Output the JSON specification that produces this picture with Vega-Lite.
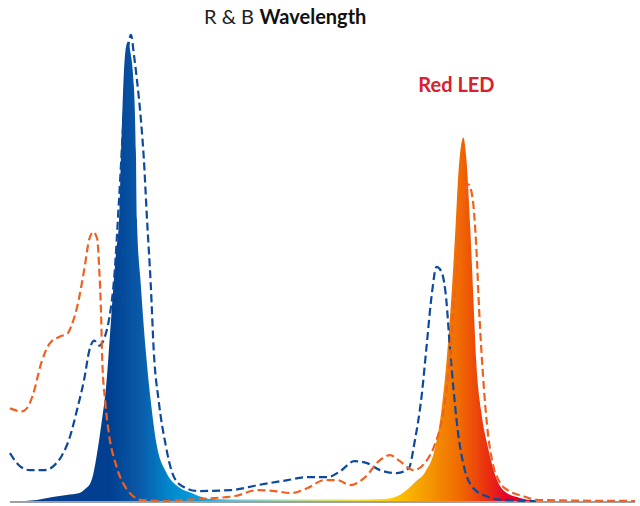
{
  "$schema": "https://vega.github.io/schema/vega-lite/v6.json",
  "width": 640,
  "height": 506,
  "padding": 0,
  "autosize": {"type": "fit", "contains": "padding"},
  "config": {"view": {"stroke": null}},
  "datasets": {
    "fill": [
      {"nm": 385.625, "v": 1}, {"nm": 393.125, "v": 2}, {"nm": 403.125, "v": 5}, {"nm": 411.875, "v": 7},
      {"nm": 420, "v": 9}, {"nm": 424.375, "v": 14}, {"nm": 426.25, "v": 17}, {"nm": 428.125, "v": 24},
      {"nm": 430.625, "v": 44}, {"nm": 433.75, "v": 77}, {"nm": 436.875, "v": 117}, {"nm": 440, "v": 184},
      {"nm": 443.125, "v": 251}, {"nm": 445, "v": 284}, {"nm": 446.25, "v": 351}, {"nm": 448.125, "v": 434},
      {"nm": 449.375, "v": 457}, {"nm": 450.625, "v": 462}, {"nm": 451.875, "v": 454}, {"nm": 454.375, "v": 417},
      {"nm": 455.625, "v": 351}, {"nm": 456.25, "v": 284}, {"nm": 458.75, "v": 217}, {"nm": 461.875, "v": 151},
      {"nm": 465, "v": 101}, {"nm": 468.75, "v": 57}, {"nm": 474.375, "v": 31}, {"nm": 482.5, "v": 15},
      {"nm": 490.625, "v": 9}, {"nm": 495, "v": 6}, {"nm": 503.125, "v": 3}, {"nm": 513.75, "v": 2.5},
      {"nm": 557.5, "v": 2.5}, {"nm": 601.25, "v": 2.5}, {"nm": 611.875, "v": 3}, {"nm": 620.5, "v": 6},
      {"nm": 627, "v": 13}, {"nm": 631.5, "v": 20}, {"nm": 637.75, "v": 30}, {"nm": 644, "v": 54},
      {"nm": 648, "v": 91}, {"nm": 651.25, "v": 141}, {"nm": 654.375, "v": 207}, {"nm": 656.875, "v": 274},
      {"nm": 658.75, "v": 330}, {"nm": 660.625, "v": 360}, {"nm": 661.875, "v": 366}, {"nm": 663.75, "v": 345},
      {"nm": 666.25, "v": 274}, {"nm": 668.125, "v": 207}, {"nm": 670, "v": 141}, {"nm": 673.125, "v": 91},
      {"nm": 677.5, "v": 54}, {"nm": 681.875, "v": 27}, {"nm": 687.5, "v": 11}, {"nm": 697.5, "v": 4},
      {"nm": 708, "v": 1}
    ],
    "blue": [
      {"nm": 376.25, "v": 49}, {"nm": 382.5, "v": 36}, {"nm": 388.75, "v": 32}, {"nm": 398.125, "v": 32},
      {"nm": 404.375, "v": 37}, {"nm": 408.75, "v": 46}, {"nm": 413.75, "v": 64}, {"nm": 418.75, "v": 94},
      {"nm": 423.125, "v": 124}, {"nm": 426.25, "v": 152}, {"nm": 429.375, "v": 162}, {"nm": 432.5, "v": 157},
      {"nm": 435.625, "v": 164}, {"nm": 438.75, "v": 184}, {"nm": 441.875, "v": 224}, {"nm": 445, "v": 304},
      {"nm": 448.125, "v": 394}, {"nm": 450.625, "v": 454}, {"nm": 452.5, "v": 469}, {"nm": 454.375, "v": 449},
      {"nm": 456.25, "v": 424}, {"nm": 458.75, "v": 384}, {"nm": 460.625, "v": 344}, {"nm": 462.5, "v": 287},
      {"nm": 465, "v": 217}, {"nm": 466.875, "v": 151}, {"nm": 470, "v": 101}, {"nm": 474.375, "v": 57},
      {"nm": 478.125, "v": 31}, {"nm": 483.75, "v": 17}, {"nm": 495, "v": 11}, {"nm": 515.625, "v": 12},
      {"nm": 532.5, "v": 17}, {"nm": 551.25, "v": 22}, {"nm": 563.75, "v": 25}, {"nm": 576.25, "v": 25},
      {"nm": 584.375, "v": 31}, {"nm": 593.125, "v": 41}, {"nm": 601.25, "v": 39}, {"nm": 609.375, "v": 32},
      {"nm": 620, "v": 29}, {"nm": 627.5, "v": 34}, {"nm": 631.25, "v": 61}, {"nm": 635.625, "v": 107},
      {"nm": 638.75, "v": 157}, {"nm": 641.875, "v": 207}, {"nm": 645, "v": 236}, {"nm": 648.125, "v": 231},
      {"nm": 651.25, "v": 201}, {"nm": 653.125, "v": 161}, {"nm": 655.625, "v": 114}, {"nm": 658.75, "v": 67},
      {"nm": 662.5, "v": 34}, {"nm": 668.125, "v": 14}, {"nm": 676.25, "v": 6}, {"nm": 686.875, "v": 2},
      {"nm": 707.5, "v": 1}
    ],
    "orange": [
      {"nm": 376.25, "v": 94}, {"nm": 383.75, "v": 91}, {"nm": 386.875, "v": 94}, {"nm": 390.625, "v": 107},
      {"nm": 396.25, "v": 141}, {"nm": 401.25, "v": 159}, {"nm": 407.5, "v": 166}, {"nm": 412.5, "v": 169},
      {"nm": 415, "v": 177}, {"nm": 418.75, "v": 197}, {"nm": 423.125, "v": 234}, {"nm": 426.25, "v": 264},
      {"nm": 428.75, "v": 271}, {"nm": 431.25, "v": 264}, {"nm": 432.5, "v": 234}, {"nm": 433.75, "v": 184},
      {"nm": 434.375, "v": 144}, {"nm": 436.25, "v": 101}, {"nm": 438.75, "v": 67}, {"nm": 443.125, "v": 37},
      {"nm": 449.375, "v": 14}, {"nm": 459.375, "v": 2}, {"nm": 474.375, "v": 1}, {"nm": 484.375, "v": 2},
      {"nm": 505.625, "v": 4}, {"nm": 518.125, "v": 6}, {"nm": 532.5, "v": 12}, {"nm": 543.125, "v": 11},
      {"nm": 553.125, "v": 9}, {"nm": 563.75, "v": 14}, {"nm": 574.375, "v": 22}, {"nm": 582.5, "v": 22},
      {"nm": 590.625, "v": 17}, {"nm": 599.375, "v": 24}, {"nm": 609.375, "v": 42}, {"nm": 615.625, "v": 47},
      {"nm": 621.875, "v": 41}, {"nm": 630.625, "v": 32}, {"nm": 637.5, "v": 39}, {"nm": 643.75, "v": 57},
      {"nm": 649.375, "v": 91}, {"nm": 653.125, "v": 141}, {"nm": 656.25, "v": 207}, {"nm": 659.375, "v": 264},
      {"nm": 662.5, "v": 307}, {"nm": 665, "v": 319}, {"nm": 667.5, "v": 307}, {"nm": 670, "v": 257},
      {"nm": 671.875, "v": 191}, {"nm": 674.375, "v": 124}, {"nm": 677.5, "v": 67}, {"nm": 680.625, "v": 37},
      {"nm": 684.375, "v": 21}, {"nm": 690.625, "v": 11}, {"nm": 699.375, "v": 6}, {"nm": 709.375, "v": 2},
      {"nm": 770, "v": 1}
    ]
  },
  "encoding": {
    "x": {"field": "nm", "type": "quantitative", "scale": {"domain": [370, 770]}, "axis": null},
    "y": {"field": "v", "type": "quantitative", "scale": {"domain": [-2, 504]}, "axis": null}
  },
  "layer": [
    {
      "data": {"name": "fill"},
      "mark": {
        "type": "area",
        "interpolate": "monotone",
        "color": {
          "gradient": "linear", "x1": 0, "x2": 1, "y1": 0, "y2": 0,
          "stops": [
            {"offset": 0, "color": "#0b3d8e"},
            {"offset": 0.165, "color": "#003f90"},
            {"offset": 0.223, "color": "#0a58a8"},
            {"offset": 0.282, "color": "#0088cc"},
            {"offset": 0.34, "color": "#00a0e0"},
            {"offset": 0.417, "color": "#70c8d8"},
            {"offset": 0.534, "color": "#b8e0a0"},
            {"offset": 0.65, "color": "#f0e040"},
            {"offset": 0.703, "color": "#ffd400"},
            {"offset": 0.786, "color": "#f59a00"},
            {"offset": 0.85, "color": "#f06a00"},
            {"offset": 0.903, "color": "#ea3010"},
            {"offset": 0.942, "color": "#e4002a"},
            {"offset": 1, "color": "#e0002a"}
          ]
        }
      }
    },
    {
      "data": {"values": [{"nm": 376.25, "b": 770, "v": 0}]},
      "mark": {"type": "rule", "color": "#a0a0a0", "strokeWidth": 2},
      "encoding": {"x2": {"field": "b"}}
    },
    {
      "data": {"name": "blue"},
      "mark": {"type": "line", "interpolate": "monotone", "color": "#0b4a9c", "strokeWidth": 2.2, "strokeDash": [8, 4]}
    },
    {
      "data": {"name": "orange"},
      "mark": {"type": "line", "interpolate": "monotone", "color": "#f06020", "strokeWidth": 2.2, "strokeDash": [8, 4]}
    },
    {
      "data": {"values": [{"nm": 530, "v": 486, "t": "R & B"}]},
      "mark": {"type": "text", "font": "Lato", "fontSize": 20, "baseline": "middle", "align": "right", "color": "#222222"},
      "encoding": {"text": {"field": "t"}}
    },
    {
      "data": {"values": [{"nm": 533.5, "v": 486, "t": "Wavelength"}]},
      "mark": {"type": "text", "font": "Lato", "fontSize": 20, "fontWeight": "bold", "baseline": "middle", "align": "left", "color": "#111111"},
      "encoding": {"text": {"field": "t"}}
    },
    {
      "data": {"values": [{"nm": 657.5, "v": 418, "t": "Red LED"}]},
      "mark": {"type": "text", "font": "Lato", "fontSize": 20, "fontWeight": "bold", "baseline": "middle", "align": "center", "color": "#d8202e"},
      "encoding": {"text": {"field": "t"}}
    }
  ]
}
